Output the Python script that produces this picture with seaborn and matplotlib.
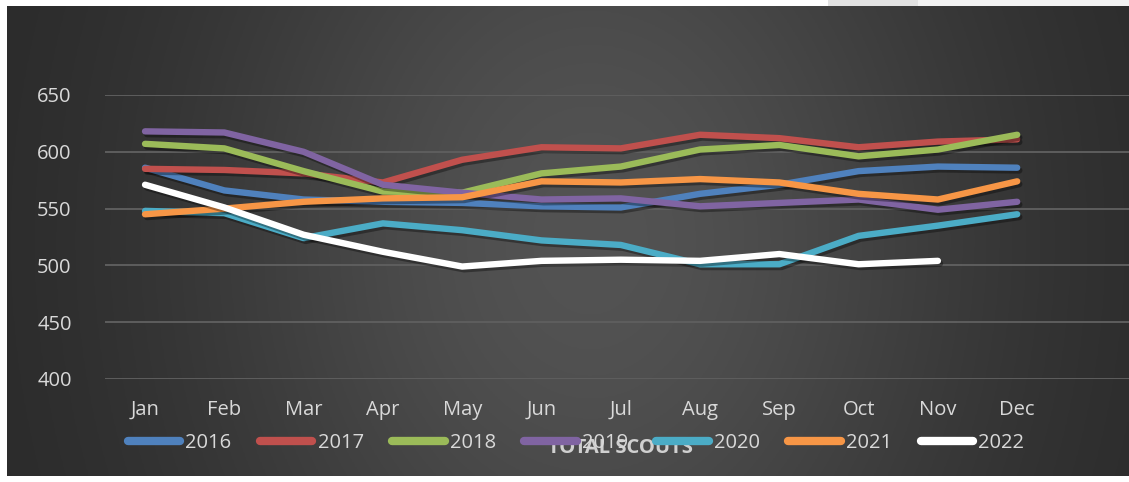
import numpy as np
import pandas as pd
import matplotlib
matplotlib.use("Agg")
import matplotlib.pyplot as plt
import matplotlib.patheffects as pe
from matplotlib.patches import Rectangle
from matplotlib.lines import Line2D
import seaborn as sns

# ---------------- data ----------------
months = ["Jan", "Feb", "Mar", "Apr", "May", "Jun", "Jul", "Aug", "Sep", "Oct", "Nov", "Dec"]
years = ["2016", "2017", "2018", "2019", "2020", "2021", "2022"]
v2016 = [586, 566, 558, 556, 555, 552, 551, 563, 571, 583, 587, 586]
v2017 = [585, 584, 581, 573, 593, 604, 603, 615, 612, 604, 609, 611]
v2018 = [607, 603, 583, 565, 564, 581, 587, 602, 606, 596, 602, 615]
v2019 = [618, 617, 600, 571, 564, 558, 559, 552, 555, 558, 549, 556]
v2020 = [548, 546, 524, 537, 531, 522, 518, 501, 501, 526, 535, 545]
v2021 = [545, 550, 556, 559, 560, 574, 573, 576, 573, 563, 558, 574]
v2022 = [571, 551, 527, 512, 499, 504, 505, 504, 510, 501, 504, np.nan]
yticks = [400, 450, 500, 550, 600, 650]
title = "TOTAL SCOUTS"

series = [v2016, v2017, v2018, v2019, v2020, v2021, v2022]
colors = ["#4F81BD", "#C0504D", "#9BBB59", "#8064A2", "#4BACC6", "#F79646", "#FFFFFF"]

df = pd.concat(
    [pd.DataFrame({"idx": np.arange(len(months)), "value": vals, "year": yr})
     for yr, vals in zip(years, series)],
    ignore_index=True,
)
df = df.dropna()

# ---------------- figure ----------------
W, H = 1129, 482
fig = plt.figure(figsize=(W / 100, H / 100), dpi=100, facecolor="white")

# dark gradient background
bg = fig.add_axes([7 / W, 6 / H, 1 - 7 / W, 1 - 12 / H], zorder=-10)
gx = np.linspace(0, 1, 400)
gy = np.linspace(0, 1, 200)
X, Y = np.meshgrid(gx, gy)
val = 0.155 + (0.325 - 0.155) * np.exp(-((X - 0.52) / 0.36) ** 2 - ((Y - 0.5) / 1.1) ** 2)
bg.imshow(np.dstack([val, val, val]), aspect="auto", extent=[0, 1, 0, 1], origin="lower")
bg.set_axis_off()

# light patch top-right
fig.patches.append(Rectangle((828 / W, 1 - 6 / H), 90 / W, 6 / H, transform=fig.transFigure,
                             facecolor="#e2e2e2", edgecolor="none", zorder=-5))
fig.patches.append(Rectangle((918 / W, 1 - 6 / H), 211 / W, 6 / H, transform=fig.transFigure,
                             facecolor="#f2f2f2", edgecolor="none", zorder=-5))

ax = fig.add_axes([105 / W, 1 - 379 / H, 1 - 105 / W, (379 - 95) / H])
ax.set_facecolor("none")

sns.lineplot(data=df, x="idx", y="value", hue="year", palette=colors, linewidth=4.6,
             legend=False, ax=ax, sort=False)
for ln in ax.get_lines():
    ln.set_solid_capstyle("round")
    ln.set_solid_joinstyle("round")
    ln.set_clip_on(False)
    ln.set_path_effects([pe.SimpleLineShadow(offset=(1.5, -2), shadow_color="black", alpha=0.35),
                         pe.Normal()])

ax.set_xlim(-0.505, 12.41)
ax.set_ylim(400, 650)
ax.set_yticks(yticks)
ax.set_xticks(np.arange(len(months)))
ax.set_xticklabels(months)
ax.grid(axis="y", color="#5e5e5e", linewidth=1.4)
ax.grid(axis="x", visible=False)
ax.set_axisbelow(True)
for s in ax.spines.values():
    s.set_visible(False)
ax.tick_params(length=0, colors="#d9d9d9", labelsize=14.5)
ax.tick_params(axis="y", pad=24)
ax.tick_params(axis="x", pad=15)
for lbl in ax.get_xticklabels() + ax.get_yticklabels():
    lbl.set_fontfamily("Open Sans")
ax.set_xlabel("")
ax.set_ylabel("")

# title (drawn beneath the legend)
fig.text(620 / W, 1 - 448 / H, title, ha="center", va="center", fontsize=14.5,
         fontweight="bold", color="#d0d0d0", family="Open Sans", zorder=1)

handles = [Line2D([0], [0], color=c, linewidth=6, solid_capstyle="round") for c in colors]
leg = fig.legend(handles, years, loc="center", bbox_to_anchor=(576 / W, 1 - 443 / H), ncol=7,
                 frameon=False, handlelength=2.6, handletextpad=0.25, columnspacing=1.42,
                 prop={"family": "Open Sans", "size": 14.5})
leg.set_zorder(5)
for t in leg.get_texts():
    t.set_color("#d9d9d9")

fig.savefig("out.png", dpi=100, facecolor="white")
